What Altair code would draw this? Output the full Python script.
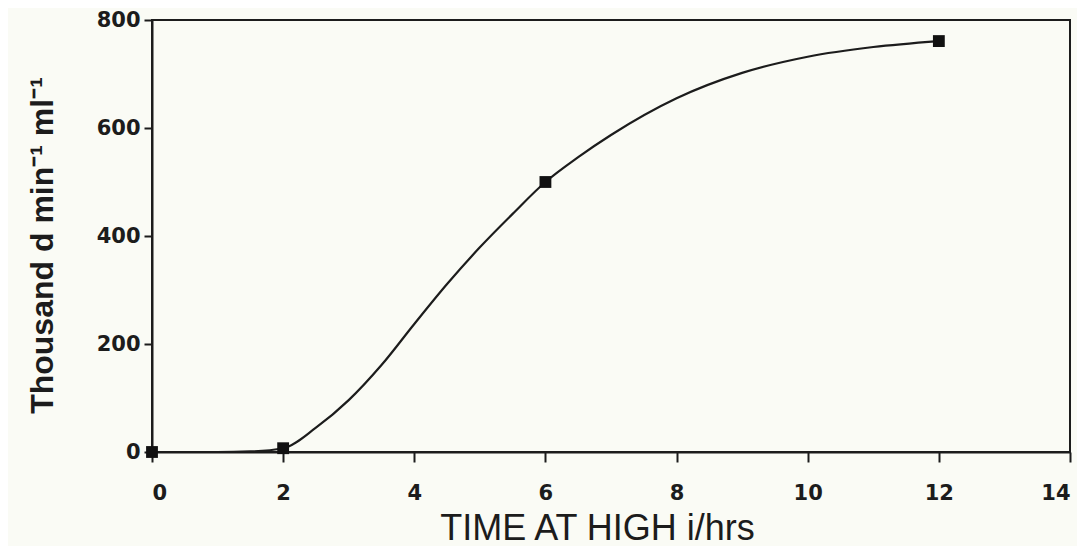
import altair as alt
import pandas as pd

# Measured points (hours, thousand d min^-1 ml^-1)
time_hours = [0, 2, 6, 12]
activity = [0, 7, 500, 761]

# Fitted curve
curve_time = [0, 1, 1.5, 2, 2.5, 3, 3.5, 4, 4.5, 5, 5.5, 6, 6.5, 7, 8, 9, 10, 11, 12]
curve_activity = [0, 0, 1, 7, 45, 96, 161, 237, 311, 379, 441, 500, 546, 587, 655, 702, 732, 750, 761]

x_ticks = [0, 2, 4, 6, 8, 10, 12, 14]
y_ticks = [0, 200, 400, 600, 800]

pts = pd.DataFrame({"t": time_hours, "v": activity})
crv = pd.DataFrame({"t": curve_time, "v": curve_activity})

INK = "#1c1c1c"
PAPER = "#fafbf5"
FONT = "Liberation Sans"
LABEL_FONT = "DejaVu Sans"

x_enc = alt.X(
    "t:Q",
    scale=alt.Scale(domain=[0, 14], nice=False, zero=False),
    axis=alt.Axis(
        values=x_ticks,
        format="d",
        title="TIME AT HIGH i/hrs",
        tickSize=10,
        labelPadding=20,
        titleFontSize=36,
        titleFontWeight="normal",
        titleX=445,
        titleY=87,
        titleAlign="center",
        titleBaseline="alphabetic",
    ),
)
y_enc = alt.Y(
    "v:Q",
    scale=alt.Scale(domain=[0, 800], nice=False),
    axis=alt.Axis(
        values=y_ticks,
        format="d",
        title="Thousand d min⁻¹ ml⁻¹",
        tickSize=8,
        labelPadding=4,
        titleFontSize=32,
        titleFontWeight="bold",
        titleAngle=270,
        titleX=-100,
        titleY=225,
        titleAlign="center",
        titleBaseline="alphabetic",
    ),
)

line = alt.Chart(crv).mark_line(
    interpolate="monotone", color=INK, strokeWidth=2.2, clip=False
).encode(x=x_enc, y=y_enc)

points = alt.Chart(pts).mark_point(
    shape="square", filled=True, size=140, color="#111111", opacity=1, clip=False
).encode(x="t:Q", y="v:Q")

chart = (
    (line + points)
    .properties(
        width=918,
        height=432,
        background=PAPER,
        autosize=alt.AutoSizeParams(type="none"),
        padding={"left": 144, "top": 12, "right": 7, "bottom": 94},
    )
    .configure_view(stroke=INK, strokeWidth=2, fill=PAPER)
    .configure_axis(
        grid=False,
        domainColor=INK,
        domainWidth=2,
        tickColor=INK,
        tickWidth=2,
        labelFont=LABEL_FONT,
        labelFontSize=21,
        labelFontWeight="bold",
        labelColor=INK,
        titleFont=FONT,
        titleColor=INK,
    )
)

chart.save("out.html", embed_options={"renderer": "svg", "actions": False})
